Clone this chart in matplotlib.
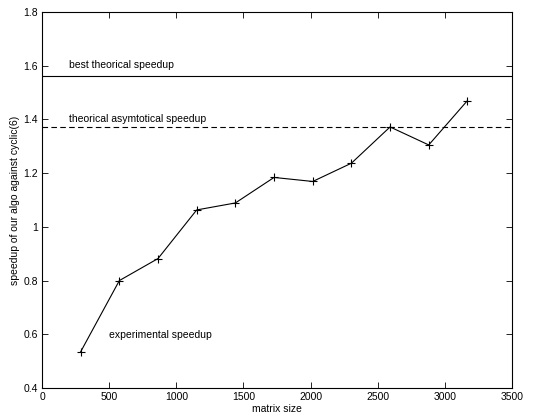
import matplotlib
matplotlib.use("Agg")
from matplotlib import pyplot as plt

# matrix sizes and measured speedup
sizes = [288, 576, 864, 1152, 1440, 1728, 2016, 2304, 2592, 2880, 3168]
speedup = [0.535, 0.800, 0.882, 1.063, 1.089, 1.184, 1.169, 1.237, 1.372, 1.305, 1.470]

best_speedup = 1.560
asymptotic_speedup = 1.371

plt.rcParams['font.family'] = ['Liberation Sans', 'DejaVu Sans']
plt.rcParams['font.size'] = 7.5

fig = plt.figure(figsize=(5.33, 4.17), dpi=100)
ax = fig.add_axes([42 / 533., 29 / 417., 470 / 533., 376 / 417.])

ax.plot(sizes, speedup, '-', color='k', lw=0.8, marker='+', ms=5.5, mew=0.8)
ax.axhline(best_speedup, color='k', lw=0.8, ls='-')
ax.axhline(asymptotic_speedup, color='k', lw=0.8, ls=(0, (5, 3)))

ax.text(200, 1.59, 'best theorical speedup')
ax.text(200, 1.39, 'theorical asymtotical speedup')
ax.text(500, 0.585, 'experimental speedup')

ax.set_xlim(0, 3500)
ax.set_ylim(0.4, 1.8)
ax.set_xticks(range(0, 3501, 500))
ax.set_yticks([0.4, 0.6, 0.8, 1, 1.2, 1.4, 1.6, 1.8])
ax.set_yticklabels(['0.4', '0.6', '0.8', '1', '1.2', '1.4', '1.6', '1.8'])
ax.tick_params(direction='in', top=True, right=True, length=4, width=0.6, pad=3)
for s in ax.spines.values():
    s.set_linewidth(0.8)

ax.set_xlabel('matrix size', labelpad=1)
ax.set_ylabel('speedup of our algo against cyclic(6)', labelpad=2)

fig.savefig('out.png', dpi=100)
